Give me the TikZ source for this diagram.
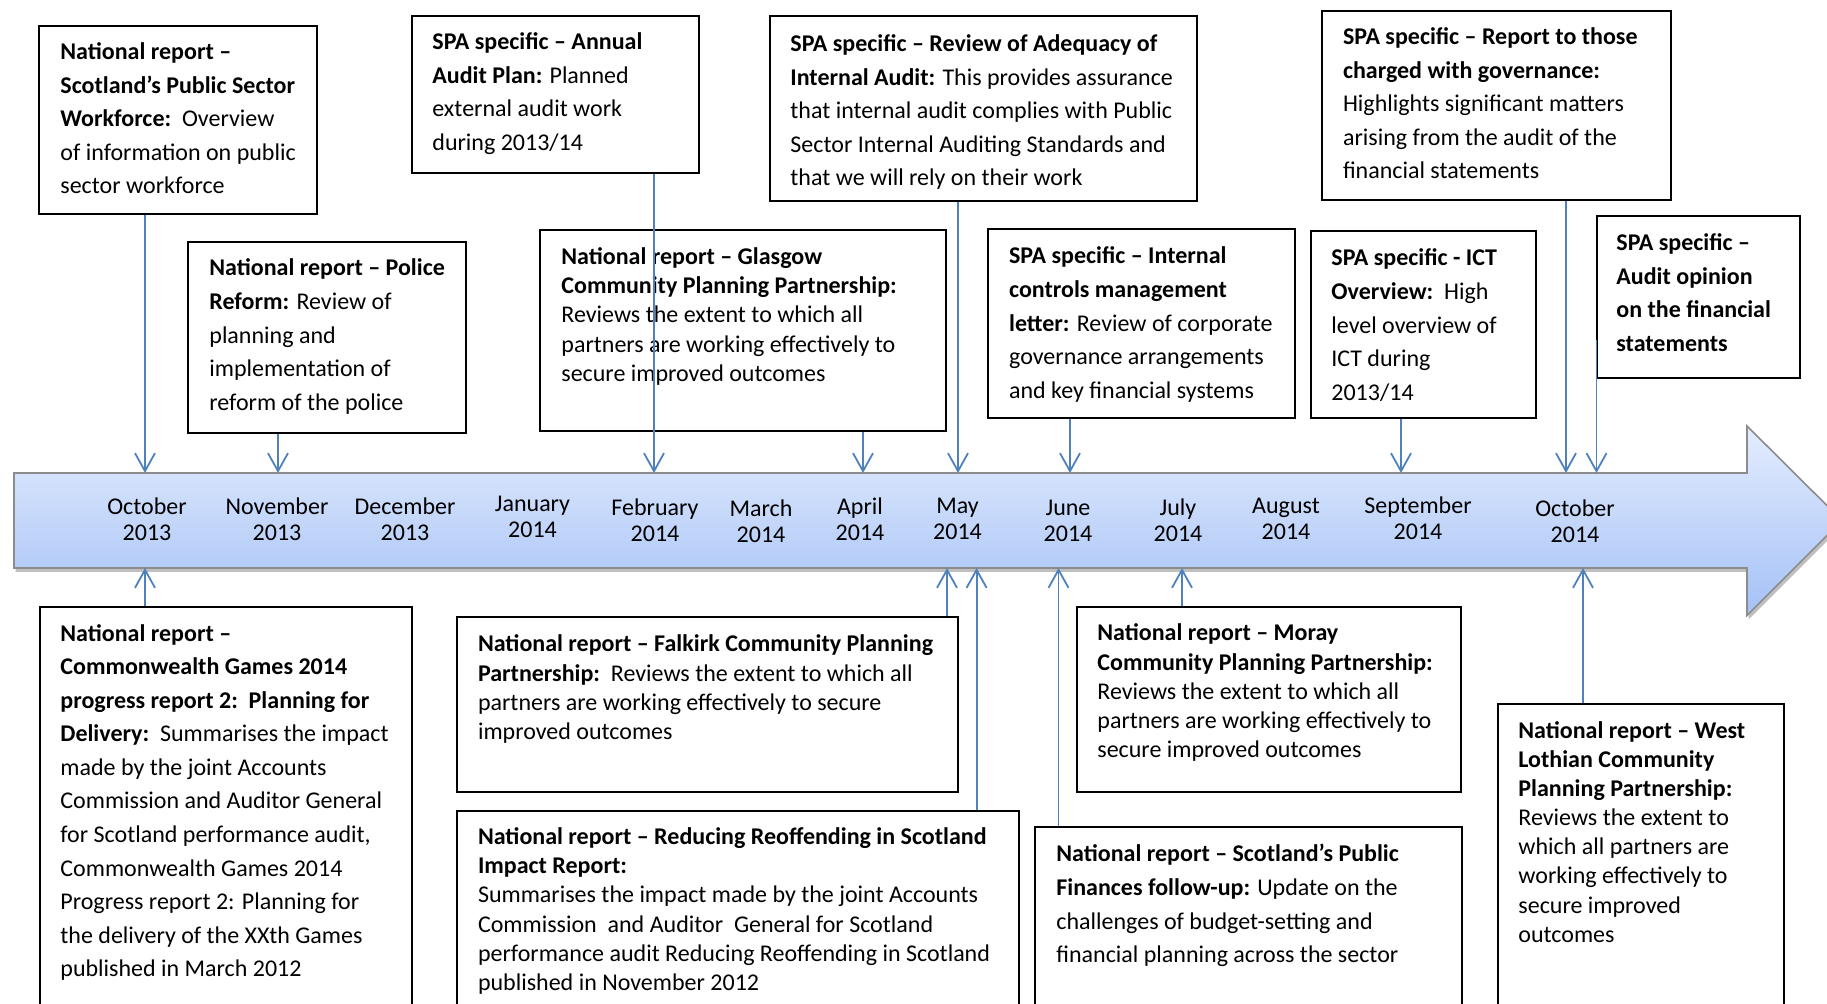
\documentclass[tikz,border=0pt]{standalone}
\usepackage{fontspec}
\setmainfont{Carlito}
\usetikzlibrary{arrows.meta,fit,shadows}
\definecolor{conncol}{RGB}{79,129,189}
\definecolor{bandtop}{RGB}{228,237,254}
\definecolor{bandbot}{RGB}{164,193,246}
\definecolor{bandedge}{RGB}{140,140,140}
\begin{document}
\begin{tikzpicture}[x=0.5pt,y=-0.5pt,
  box/.style={draw=black, line width=1pt, inner sep=0pt, fill=white},
  txtw/.style={anchor=base west, align=left, inner sep=0pt, font=\fontsize{12}{16.8}\selectfont},
  txtn/.style={anchor=base west, align=left, inner sep=0pt, font=\fontsize{12}{14.6}\selectfont},
  month/.style={anchor=base, align=center, inner sep=0pt, font=\fontsize{12}{13}\selectfont},
  conn/.style={draw=conncol, line width=0.9pt, -{Straight Barb[length=9pt,width=10pt]}}
]
\useasboundingbox (0,0) rectangle (1827,1004);
\clip (0,0) rectangle (1827,1004);

% timeline band
\path[draw=bandedge, line width=0.8pt, top color=bandtop, bottom color=bandbot,
  drop shadow={shadow xshift=0.8pt, shadow yshift=-2pt, opacity=0.25, fill=black}]
  (14,473) -- (1747,473) -- (1747,426) -- (1842,520.5) -- (1747,615.5) -- (1747,568) -- (14,568) -- cycle;

% months (anchor = baseline of the last line)
\node[month] (m1) at (147,541) {October\\2013};
\node[month] (m2) at (277,541) {November\\2013};
\node[month] (m3) at (405,541) {December\\2013};
\node[month] (m4) at (532.5,537.5) {January\\2014};
\node[month] (m5) at (655,542) {February\\2014};
\node[month] (m6) at (761,542.5) {March\\2014};
\node[month] (m7) at (860,540.5) {April\\2014};
\node[month] (m8) at (957.5,539.5) {May\\2014};
\node[month] (m9) at (1068,541.5) {June\\2014};
\node[month] (m10) at (1178,541.5) {July\\2014};
\node[month] (m11) at (1286,539.5) {August\\2014};
\node[month] (m12) at (1418,539.5) {September\\2014};
\node[month] (m13) at (1575,542.5) {October\\2014};

% top boxes
\node[box, fit={(39,26)(317,214)}] (A) {};
\node[txtw] (At) at (60,193.9) {\textbf{National report –}\\\textbf{Scotland’s Public Sector}\\\textbf{Workforce:}\ \ Overview\\of information on public\\sector workforce};

\node[box, fit={(188,242)(466,433)}] (B) {};
\node[txtw] (Bt) at (209,410.4) {\textbf{National report – Police}\\\textbf{Reform:} Review of\\planning and\\implementation of\\reform of the police};

\node[box, fit={(412,16)(699,173)}] (C) {};
\node[txtw] (Ct) at (432,150.3) {\textbf{SPA specific – Annual}\\\textbf{Audit Plan:} Planned\\external audit work\\during 2013/14};

\node[box, fit={(770,16)(1197,201)}] (D) {};
\node[txtw] (Dt) at (790,185.9) {\textbf{SPA specific – Review of Adequacy of}\\\textbf{Internal Audit:} This provides assurance\\that internal audit complies with Public\\Sector Internal Auditing Standards and\\that we will rely on their work};

\node[box, fit={(540,230)(946,431)}] (E) {};
\node[txtn] (Et) at (561,381.3) {\textbf{National report – Glasgow}\\\textbf{Community Planning Partnership:}\\Reviews the extent to which all\\partners are working effectively to\\secure improved outcomes};

\node[box, fit={(988,229)(1295,418)}] (F) {};
\node[txtw] (Ft) at (1008.7,398.4) {\textbf{SPA specific – Internal}\\\textbf{controls management}\\\textbf{letter:} Review of corporate\\governance arrangements\\and key financial systems};

\node[box, fit={(1311,231)(1536,418)}] (G) {};
\node[txtw] (Gt) at (1331,400.4) {\textbf{SPA specific - ICT}\\\textbf{Overview:}\ \ High\\level overview of\\ICT during\\2013/14};

\node[box, fit={(1322,11)(1671,200)}] (H) {};
\node[txtw] (Ht) at (1342.6,178.9) {\textbf{SPA specific – Report to those}\\\textbf{charged with governance:}\\Highlights significant matters\\arising from the audit of the\\financial statements};

\node[box, fit={(1596.5,216)(1800,378)}] (I) {};
\node[txtw] (It) at (1616,351.3) {\textbf{SPA specific –}\\\textbf{Audit opinion}\\\textbf{on the financial}\\\textbf{statements}};

% bottom boxes
\node[box, fit={(39.5,607)(412,1030)}] (J) {};
\node[txtw] (Jt) at (60,977) {\textbf{National report –}\\\textbf{Commonwealth Games 2014}\\\textbf{progress report 2:\ \ Planning for}\\\textbf{Delivery:}\ \ Summarises the impact\\made by the joint Accounts\\Commission and Auditor General\\for Scotland performance audit,\\Commonwealth Games 2014\\Progress report 2: Planning for\\the delivery of the XXth Games\\published in March 2012};

\node[box, fit={(457,617)(958,792)}] (K) {};
\node[txtn] (Kt) at (477.6,739.6) {\textbf{National report – Falkirk Community Planning}\\\textbf{Partnership:}\ \ Reviews the extent to which all\\partners are working effectively to secure\\improved outcomes};

\node[box, fit={(457,811)(1019,1030)}] (L) {};
\node[txtn] (Lt) at (477.6,990.5) {\textbf{National report – Reducing Reoffending in Scotland}\\\textbf{Impact Report:}\\Summarises the impact made by the joint Accounts\\Commission\ \ and Auditor\ \ General for Scotland\\performance audit Reducing Reoffending in Scotland\\published in November 2012};

\node[box, fit={(1077,607)(1461,792)}] (M) {};
\node[txtn] (Mt) at (1097,757.8) {\textbf{National report – Moray}\\\textbf{Community Planning Partnership:}\\Reviews the extent to which all\\partners are working effectively to\\secure improved outcomes};

\node[box, fit={(1035,827)(1461.5,1030)}] (N) {};
\node[txtw] (Nt) at (1056,962.8) {\textbf{National report – Scotland’s Public}\\\textbf{Finances follow-up:} Update on the\\challenges of budget-setting and\\financial planning across the sector};

\node[box, fit={(1498,704)(1783.5,1030)}] (O) {};
\node[txtn] (Ot) at (1518,942.4) {\textbf{National report – West}\\\textbf{Lothian Community}\\\textbf{Planning Partnership:}\\Reviews the extent to\\which all partners are\\working effectively to\\secure improved\\outcomes};

% connector end points on the band
\coordinate (dA) at (145,473);
\coordinate (dB) at (278,473);
\coordinate (dC) at (654,473);
\coordinate (dE) at (863,473);
\coordinate (dD) at (958,473);
\coordinate (dF) at (1070,473);
\coordinate (dG) at (1401,473);
\coordinate (dH) at (1566,473);
\coordinate (dI) at (1596.5,473);
\coordinate (iS) at (1596.5,340);
\coordinate (uJ) at (145,568);
\coordinate (uK) at (947,568);
\coordinate (uL) at (976.6,568);
\coordinate (uN) at (1058.5,568);
\coordinate (uM) at (1182,568);
\coordinate (uO) at (1583,568);

% connectors
\draw[conn] (A.south -| dA) -- (dA);
\draw[conn] (B.south -| dB) -- (dB);
\draw[conn] (C.south -| dC) -- (dC);
\draw[conn] (E.south -| dE) -- (dE);
\draw[conn] (D.south -| dD) -- (dD);
\draw[conn] (F.south -| dF) -- (dF);
\draw[conn] (G.south -| dG) -- (dG);
\draw[conn] (H.south -| dH) -- (dH);
\draw[conn] (iS) -- (dI);
\draw[conn] (J.north -| uJ) -- (uJ);
\draw[conn] (K.north -| uK) -- (uK);
\draw[conn] (L.north -| uL) -- (uL);
\draw[conn] (N.north -| uN) -- (uN);
\draw[conn] (M.north -| uM) -- (uM);
\draw[conn] (O.north -| uO) -- (uO);
\end{tikzpicture}
\end{document}
